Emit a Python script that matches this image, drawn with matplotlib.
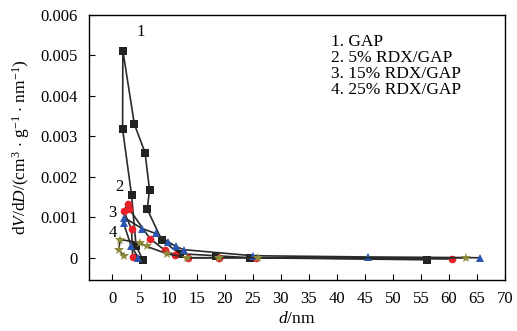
import matplotlib
matplotlib.use("Agg")
import matplotlib.pyplot as plt

# ---------------------------------------------------------------
# Data (plotted in line order)
# ---------------------------------------------------------------
x_gap = [56, 24.5, 18.5, 12, 8.8, 6.2, 6.6, 5.8, 3.9, 1.85, 1.8, 3.4, 4.2, 5.4]
y_gap = [-0.00005, 0.0, 0.00005, 0.0001, 0.00043, 0.0012, 0.00168, 0.0026,
         0.0033, 0.00512, 0.00318, 0.00155, 0.0003, -0.00005]

x_5 = [60.5, 25.5, 19, 13.4, 11.1, 9.4, 6.7, 3.0, 2.7, 2.0, 3.4, 3.6]
y_5 = [-0.00003, 0.0, 0.0, 0.0, 0.00007, 0.00018, 0.00047, 0.0012,
       0.00132, 0.00116, 0.0007, 0.00003]

x_15 = [65.5, 45.5, 25, 12.7, 11.3, 9.9, 7.7, 5.3, 2.1, 2.0, 3.3, 4.6]
y_15 = [0.0, 0.00002, 0.00005, 0.0002, 0.00028, 0.0004, 0.0006, 0.00072,
        0.00099, 0.00085, 0.0003, 0.0]

x_25 = [63, 26, 19, 13.2, 9.7, 6.1, 4.9, 1.4, 1.1, 2.0]
y_25 = [0.0, 0.0, 0.0, 0.0, 0.0001, 0.00028, 0.00037, 0.00045, 0.0002, 0.00005]

legend_lines = ["1. GAP", "2. 5% RDX/GAP", "3. 15% RDX/GAP", "4. 25% RDX/GAP"]
xticks = list(range(0, 75, 5))
yticks = [0, 0.001, 0.002, 0.003, 0.004, 0.005, 0.006]
ytick_labels = ["0", "0.001", "0.002", "0.003", "0.004", "0.005", "0.006"]

plt.rcParams["font.family"] = ["Liberation Serif", "DejaVu Serif"]
plt.rcParams["mathtext.fontset"] = "custom"
plt.rcParams["mathtext.rm"] = "Liberation Serif"
plt.rcParams["mathtext.it"] = "Liberation Serif:italic"

fig = plt.figure(figsize=(5.17, 3.31), dpi=100)
ax = fig.add_axes([0.172, 0.154, 0.805, 0.801])

line_kw = dict(color="#2a2a2a", linewidth=1.2, markersize=5.5, markeredgewidth=0)
ax.plot(x_gap, y_gap, marker="s", markerfacecolor="#222222", **line_kw)
ax.plot(x_5, y_5, marker="o", markerfacecolor="#e8202a", **line_kw)
ax.plot(x_15, y_15, marker="^", markerfacecolor="#2a55b0", **line_kw)
ax.plot(x_25, y_25, marker="*", markerfacecolor="#8c8a3a", markersize=7,
        color="#2a2a2a", linewidth=1.2, markeredgewidth=0)

ax.set_xlim(-4.2, 70)
ax.set_ylim(-0.00055, 0.006)
ax.set_xticks(xticks)
ax.set_yticks(yticks)
ax.set_yticklabels(ytick_labels)
ax.tick_params(direction="in", labelsize=12, length=4)
ax.tick_params(axis="x", pad=8)
ax.tick_params(axis="y", pad=8)

for s in ax.spines.values():
    s.set_linewidth(1.0)

# curve numbers
ax.text(5.1, 0.00558, "1", fontsize=12, ha="center", va="center")
ax.text(1.3, 0.00176, "2", fontsize=12, ha="center", va="center")
ax.text(0.0, 0.0011, "3", fontsize=12, ha="center", va="center")
ax.text(0.1, 0.00062, "4", fontsize=12, ha="center", va="center")

# legend as plain text lines
for i, t in enumerate(legend_lines):
    ax.text(39.0, 0.00533 - i * 0.000395, t, fontsize=12.5, ha="left", va="center")

ax.set_xlabel(r"$d$/nm", fontsize=12.5, labelpad=3)
ax.set_ylabel(r"d$V$/d$D$/(cm$^{3}$ $\cdot$ g$^{-1}$ $\cdot$ nm$^{-1}$)",
              fontsize=12.5, labelpad=6)

fig.savefig("out.png", dpi=100, facecolor="white")
